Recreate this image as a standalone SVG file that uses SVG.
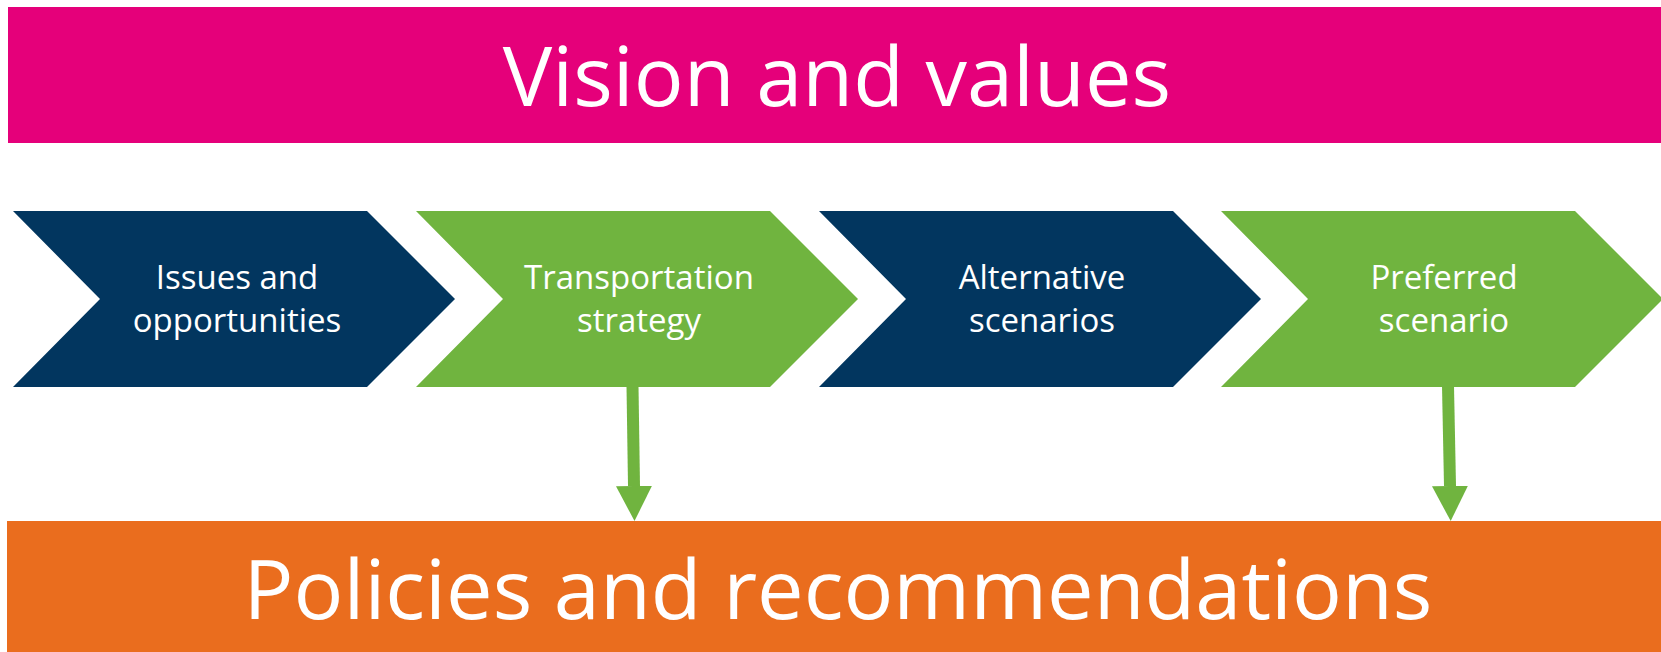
<svg xmlns="http://www.w3.org/2000/svg" width="1661" height="652" viewBox="0 0 1661 652">
<style>
.navy{fill:#02365F}
.green{fill:#70B43F}
.lbl{font-family:"Open Sans","Liberation Sans",sans-serif;font-size:33px;fill:#FFFFFF;text-anchor:middle}
.big{font-family:"Open Sans","Liberation Sans",sans-serif;font-size:83px;fill:#FFFFFF;text-anchor:middle}
.conn{stroke:#70B43F;stroke-width:12;fill:none}
</style>
<defs>
<marker id="head" markerUnits="userSpaceOnUse" markerWidth="35" markerHeight="36" viewBox="0 0 35 36" refX="0" refY="18" orient="auto">
<path d="M0,0 L35,18 L0,36 Z" fill="#70B43F"/>
</marker>
</defs>
<rect width="1661" height="652" fill="#FFFFFF"/>
<g id="vision">
<rect x="8" y="7" width="1653" height="136" fill="#E5007A"/>
<text class="big" x="837" y="106">Vision and values</text>
</g>
<g id="issues">
<path class="navy" d="M13,211 L367,211 L455,299 L367,387 L13,387 L100,299 Z"/>
<text class="lbl" x="237" y="289">Issues and</text>
<text class="lbl" x="237" y="332">opportunities</text>
</g>
<g id="transportation">
<path class="green" d="M416,211 L770,211 L858,299 L770,387 L416,387 L503,299 Z"/>
<text class="lbl" x="639" y="289">Transportation</text>
<text class="lbl" x="639" y="332">strategy</text>
</g>
<g id="alternative">
<path class="navy" d="M819,211 L1173,211 L1261,299 L1173,387 L819,387 L906,299 Z"/>
<text class="lbl" x="1042" y="289">Alternative</text>
<text class="lbl" x="1042" y="332">scenarios</text>
</g>
<g id="preferred">
<path class="green" d="M1221,211 L1575,211 L1663,299 L1575,387 L1221,387 L1308,299 Z"/>
<text class="lbl" x="1444" y="289">Preferred</text>
<text class="lbl" x="1444" y="332">scenario</text>
</g>
<g id="policies">
<rect x="7" y="521" width="1654" height="131" fill="#EA6D1E"/>
<text class="big" x="838" y="619">Policies and recommendations</text>
</g>
<g id="connectors">
<line class="conn" x1="632.5" y1="386" x2="634" y2="486" marker-end="url(#head)"/>
<line class="conn" x1="1448" y1="386" x2="1450" y2="486" marker-end="url(#head)"/>
</g>
</svg>
